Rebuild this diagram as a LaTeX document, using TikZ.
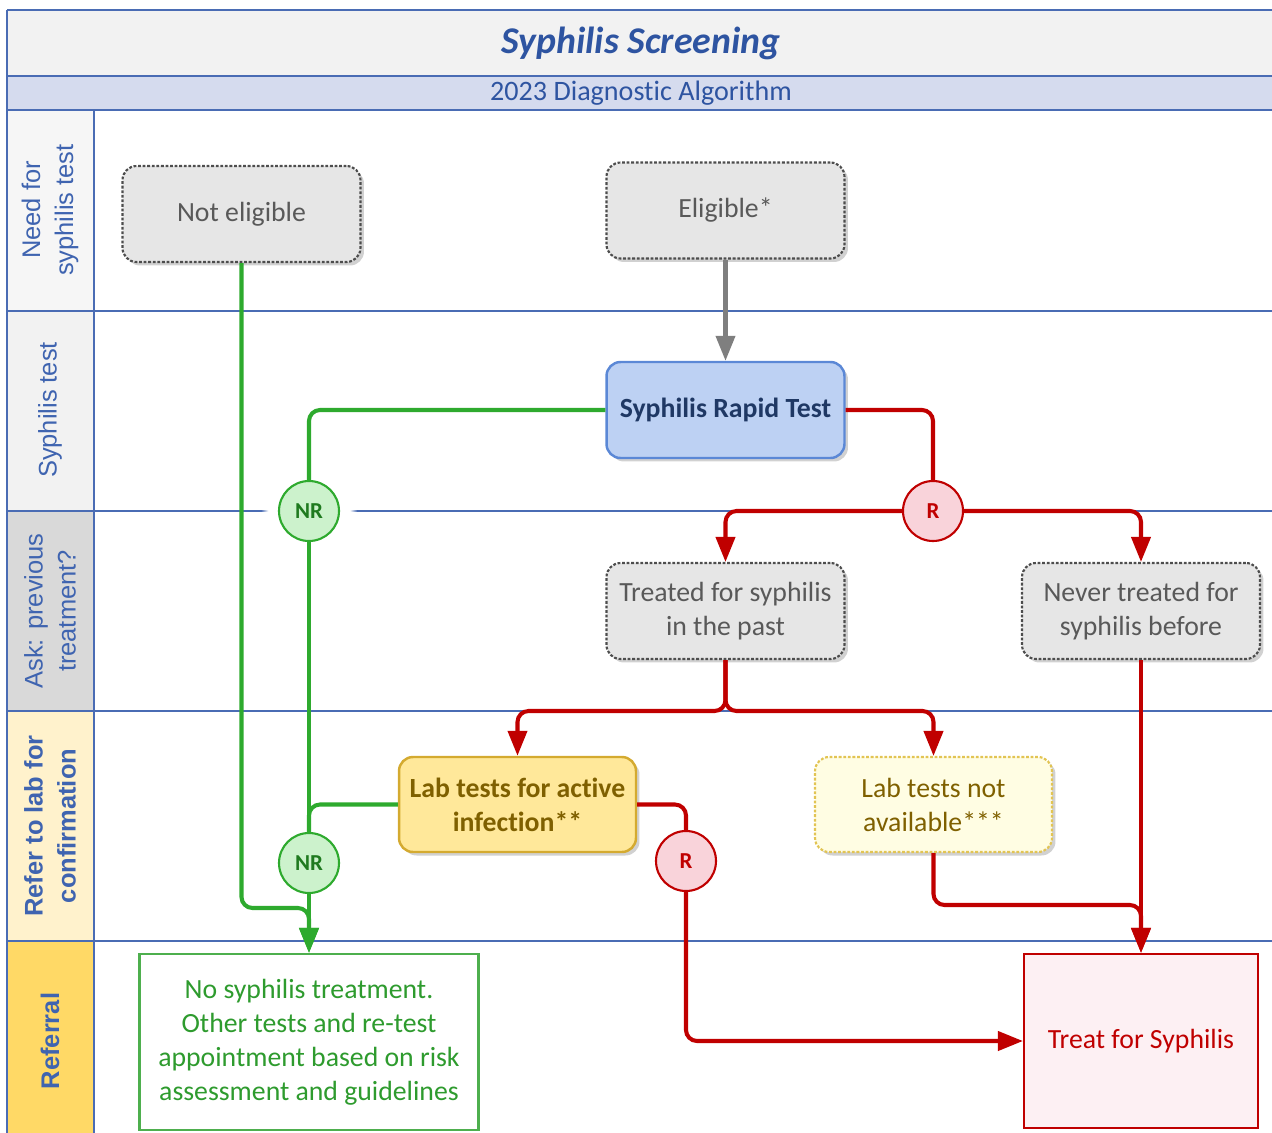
\documentclass[tikz,border=0pt]{standalone}
\usepackage{fontspec}
\setmainfont{Carlito}[Ligatures=NoCommon]
\newfontfamily\lanefont{Liberation Sans}
\usetikzlibrary{arrows.meta, shadows, fadings}

\definecolor{framecol}{HTML}{4A6CB4}
\definecolor{titlegrey}{HTML}{F2F2F2}
\definecolor{subblue}{HTML}{D5DBEE}
\definecolor{titleblue}{HTML}{2E54A1}
\definecolor{laneblue}{HTML}{3F64B0}
\definecolor{laneA}{HTML}{F6F6F6}
\definecolor{laneB}{HTML}{F2F2F2}
\definecolor{laneC}{HTML}{D9D9D9}
\definecolor{laneD}{HTML}{FFF2CC}
\definecolor{laneE}{HTML}{FFD966}
\definecolor{boxgrey}{HTML}{E6E6E6}
\definecolor{dotgrey}{HTML}{4D4D4D}
\definecolor{textgrey}{HTML}{595959}
\definecolor{rapidfill}{HTML}{BDD1F3}
\definecolor{rapidline}{HTML}{5B88D6}
\definecolor{rapidtext}{HTML}{1F3864}
\definecolor{labfill}{HTML}{FFE89A}
\definecolor{labline}{HTML}{D4AA30}
\definecolor{labtext}{HTML}{7F6000}
\definecolor{labnafill}{HTML}{FFFDE3}
\definecolor{labnaline}{HTML}{E2C453}
\definecolor{nrfill}{HTML}{CCF2CC}
\definecolor{nrtext}{HTML}{1F7A1F}
\definecolor{rfill}{HTML}{F9D3DA}
\definecolor{linegreen}{HTML}{2EAA2E}
\definecolor{linered}{HTML}{C00000}
\definecolor{linegrey}{HTML}{7F7F7F}
\definecolor{nosyphline}{HTML}{4EAF4E}
\definecolor{nosyphtext}{HTML}{2E9B2E}
\definecolor{treatfill}{HTML}{FDF0F3}

\newcommand{\flowfont}{\fontsize{15.8}{19.3}\selectfont}

\begin{document}
\begin{tikzpicture}[x=0.02cm, y=-0.02cm,
    laneline/.style={draw=framecol, line width=0.9pt},
    lanelabel/.style={rotate=90, align=center, text=laneblue, font=\lanefont\fontsize{14.5}{18.7}\selectfont},
    boxshadow/.style={drop shadow={shadow xshift=0.07cm, shadow yshift=-0.07cm, fill=black!60, opacity=0.3}},
    flowbox/.style={rounded corners=0.28cm, minimum width=4.76cm, minimum height=1.92cm, align=center, font=\flowfont, boxshadow},
    greybox/.style={flowbox, draw=dotgrey, fill=boxgrey, line width=1.2pt, dash pattern=on 1.6pt off 1pt, text=textgrey},
    rapidbox/.style={flowbox, draw=rapidline, fill=rapidfill, line width=1.4pt, text=rapidtext, font=\flowfont\bfseries},
    labbox/.style={flowbox, minimum width=4.74cm, minimum height=1.9cm, draw=labline, fill=labfill, line width=1.4pt, text=labtext, font=\flowfont\bfseries},
    labnabox/.style={flowbox, minimum width=4.74cm, minimum height=1.9cm, draw=labnaline, fill=labnafill, line width=1.2pt, dash pattern=on 1.6pt off 1pt, text=labtext},
    endbox/.style={rectangle, align=center, font=\flowfont, line width=1.2pt},
    circ/.style={circle, minimum size=1.2cm, inner sep=0pt, line width=1.2pt, font=\bfseries\fontsize{13}{15}\selectfont, circular glow={fill=white, shadow scale=1.6}},
    nrcirc/.style={circ, draw=linegreen, fill=nrfill, text=nrtext},
    rcirc/.style={circ, draw=linered, fill=rfill, text=linered},
    tip/.style={-{Triangle[length=0.5cm, width=0.38cm]}},
    greenflow/.style={draw=linegreen, line width=2.3pt, rounded corners=0.22cm},
    redflow/.style={draw=linered, line width=2.3pt, rounded corners=0.22cm},
    greyflow/.style={draw=linegrey, line width=2.3pt}
]
    \useasboundingbox (0,0) rectangle (1272,1133);

    % Header bands and lane backgrounds
    \fill[titlegrey] (7,10) rectangle (1272,76);
    \fill[subblue] (7,76) rectangle (1272,110);
    \fill[laneA] (7,110) rectangle (94,311);
    \fill[laneB] (7,311) rectangle (94,511);
    \fill[laneC] (7,511) rectangle (94,711);
    \fill[laneD] (7,711) rectangle (94,941);
    \fill[laneE] (7,941) rectangle (94,1133);

    % Frame and swimlane lines
    \draw[draw=framecol, line width=1.2pt] (7,10) -- (1272,10);
    \foreach \y in {76,110} \draw[draw=framecol, line width=1.2pt] (7,\y) -- (1272,\y);
    \foreach \y in {311,511,711,941} \draw[laneline] (7,\y) -- (1272,\y);
    \draw[laneline] (7,10) -- (7,1133);
    \draw[laneline] (94,110) -- (94,1133);

    % Titles
    \node[text=titleblue, font=\fontsize{21.5}{26}\selectfont\bfseries\itshape] (title) at (641,43) {Syphilis Screening};
    \node[text=titleblue, font=\fontsize{16}{19}\selectfont] (subtitle) at (641,93) {2023 Diagnostic Algorithm};

    % Lane labels
    \node[lanelabel] (laneneed) at (50,210) {Need for\\syphilis test};
    \node[lanelabel] (lanetest) at (50,410) {Syphilis test};
    \node[lanelabel] (laneask) at (50,611) {Ask: previous\\treatment?};
    \node[lanelabel, font=\lanefont\bfseries\fontsize{14.5}{18.7}\selectfont] (lanelab) at (50,826) {Refer to lab for\\confirmation};
    \node[lanelabel, font=\lanefont\bfseries\fontsize{14.5}{18.7}\selectfont] (laneref) at (50,1041) {Referral};

    % Steps
    \node[greybox] (noteli) at (241.5,214) {Not eligible};
    \node[greybox] (eligible) at (725.5,210.5) {Eligible*};
    \node[rapidbox] (rapid) at (725.5,410) {Syphilis Rapid Test};
    \node[nrcirc] (nr1) at (309,511) {NR};
    \node[rcirc] (r1) at (933,511) {R};
    \node[greybox] (treated) at (725.5,611) {Treated for syphilis\\in the past};
    \node[greybox] (never) at (1141,611) {Never treated for\\syphilis before};
    \node[labbox] (labact) at (517.5,804.5) {Lab tests for active\\infection**};
    \node[labnabox] (labna) at (933.5,804.5) {Lab tests not\\available***};
    \node[nrcirc] (nr2) at (309,863) {NR};
    \node[rcirc] (r2) at (686,861) {R};

    % Outcomes
    \node[endbox, draw=nosyphline, fill=white, text=nosyphtext, minimum width=6.78cm, minimum height=3.52cm] (nosyph) at (309,1042) {No syphilis treatment.\\Other tests and re-test\\appointment based on risk\\assessment and guidelines};
    \node[endbox, draw=linered, fill=treatfill, text=linered, minimum width=4.68cm, minimum height=3.48cm] (treat) at (1141,1041) {Treat for Syphilis};

    % Join points
    \coordinate (gjoin) at (309,908);
    \coordinate (tsplit) at (725.5,711);
    \coordinate (rjoin) at (1141,905);

    % Connections
    \draw[greyflow, tip] (eligible.south) -- (rapid.north);
    \draw[greenflow] (rapid.west) -| (nr1.north);
    \draw[greenflow] (nr1.south) -- (nr2.north);
    \draw[greenflow] (labact.west) -| (nr2.north);
    \draw[greenflow, tip] (noteli.south) |- (gjoin) -- (nosyph.north);
    \draw[greenflow, tip] (nr2.south) -- (nosyph.north);
    \draw[redflow] (rapid.east) -| (r1.north);
    \draw[redflow, tip] (r1.west) -| (treated.north);
    \draw[redflow, tip] (r1.east) -| (never.north);
    \draw[redflow, tip] (treated.south) -- (tsplit) -| (labact.north);
    \draw[redflow, tip] (treated.south) -- (tsplit) -| (labna.north);
    \draw[redflow] (labact.east) -| (r2.north);
    \draw[redflow, tip] (r2.south) |- (treat.west);
    \draw[redflow, tip] (never.south) -- (treat.north);
    \draw[redflow, tip] (labna.south) |- (rjoin) -- (treat.north);
\end{tikzpicture}
\end{document}
